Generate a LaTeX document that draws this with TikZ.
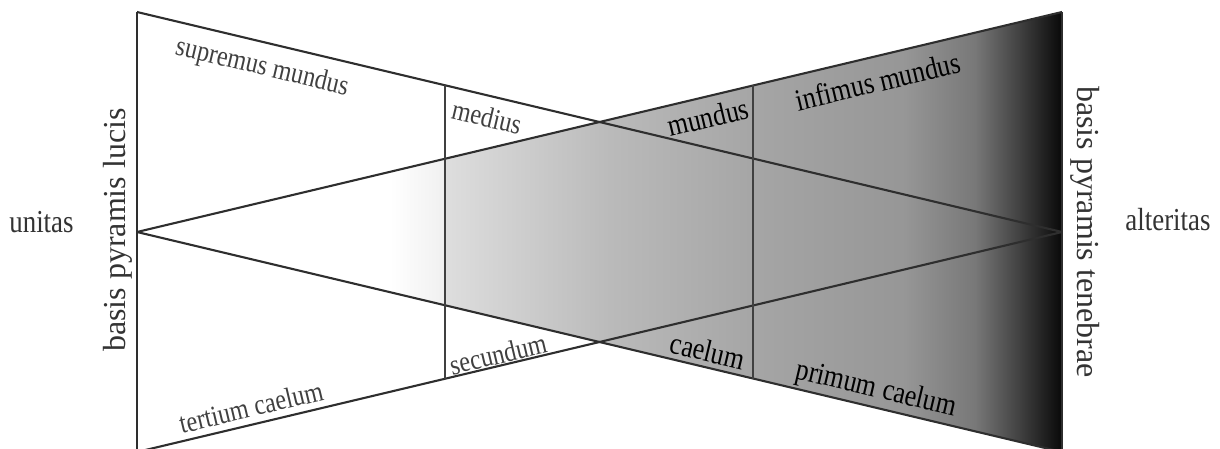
\documentclass[tikz,border=0pt]{standalone}
\usepackage{fontspec}
\usepackage{graphicx}
\setmainfont{Liberation Serif}
\newcommand{\sq}[1]{\scalebox{0.84}[1]{#1}}
\tikzset{
  ln/.style={draw=black!82, line width=2.1pt},
  vln/.style={draw=black!75, line width=1.8pt},
  outer/.style={text=black!80, inner sep=0pt, font=\fontsize{32}{32}\selectfont},
  vert/.style={text=black!80, inner sep=0pt, font=\fontsize{32}{32}\selectfont},
  lightlab/.style={text=black!75, inner sep=0pt, font=\fontsize{29}{29}\selectfont},
  darklab/.style={text=black, inner sep=0pt, font=\fontsize{31}{31}\selectfont},
}
\begin{document}
\begin{tikzpicture}[x=1pt,y=-1pt]
\useasboundingbox (0,0) rectangle (1220,448);
\clip (0,0) rectangle (1220,448);
% key points
\coordinate (TL) at (137,12);
\coordinate (LM) at (137,232);
\coordinate (BL) at (137,452);
\coordinate (TR) at (1062,12);
\coordinate (RM) at (1062,232);
\coordinate (BR) at (1062,452);
\coordinate (V1t) at (445,85);
\coordinate (V1b) at (445,379);
\coordinate (V2t) at (753,85);
\coordinate (V2b) at (753,379);
% shaded triangle
\begin{scope}
\clip (LM) -- (TR) -- (BR) -- cycle;
\shade[left color=white, right color=black!6] (390,0) rectangle (445.5,460);
\shade[left color=black!13, right color=black!27] (445,0) rectangle (609.5,460);
\shade[left color=black!27, right color=black!35] (609,0) rectangle (751.5,460);
\shade[left color=black!35, right color=black!41] (751,0) rectangle (904.5,460);
\shade[left color=black!41, right color=black!53] (904,0) rectangle (975.5,460);
\shade[left color=black!53, right color=black!76] (975,0) rectangle (1022.5,460);
\shade[left color=black!76, right color=black!97] (1022,0) rectangle (1063,460);
\end{scope}
% lines
\draw[ln] (TL) -- (RM);
\draw[ln] (BL) -- (RM);
\draw[ln] (LM) -- (TR);
\draw[ln] (LM) -- (BR);
\draw[ln] (TL) -- (BL);
\draw[ln] (TR) -- (BR);
\draw[vln] (V1t) -- (V1b);
\draw[vln] (V2t) -- (V2b);
% labels
\node[outer, anchor=base] (unitas) at (41.5,232) {\sq{unitas}};
\node[outer, anchor=base] (alteritas) at (1168,230) {\sq{alteritas}};
\node[vert, anchor=base, rotate=90] (lucis) at (125,230) {basis pyramis lucis};
\node[vert, anchor=base, rotate=-90] (tenebrae) at (1077,232) {basis pyramis tenebrae};
\node[lightlab, rotate=-13.4] (supremus) at (262,68) {\sq{supremus mundus}};
\node[lightlab, rotate=-13.4] (medius) at (487,117) {\sq{medius}};
\node[darklab, rotate=13.4] (mundus) at (708,117) {\sq{mundus}};
\node[darklab, rotate=13.4] (infimus) at (878,81) {\sq{infimus mundus}};
\node[lightlab, rotate=13.4] (secundum) at (498,354) {\sq{secundum}};
\node[darklab, rotate=-13.4] (caelum) at (708,351) {\sq{caelum}};
\node[darklab, rotate=-13.4] (primum) at (876,390) {\sq{primum caelum}};
\node[lightlab, rotate=13.4] (tertium) at (251,407) {\sq{tertium caelum}};
\end{tikzpicture}
\end{document}
